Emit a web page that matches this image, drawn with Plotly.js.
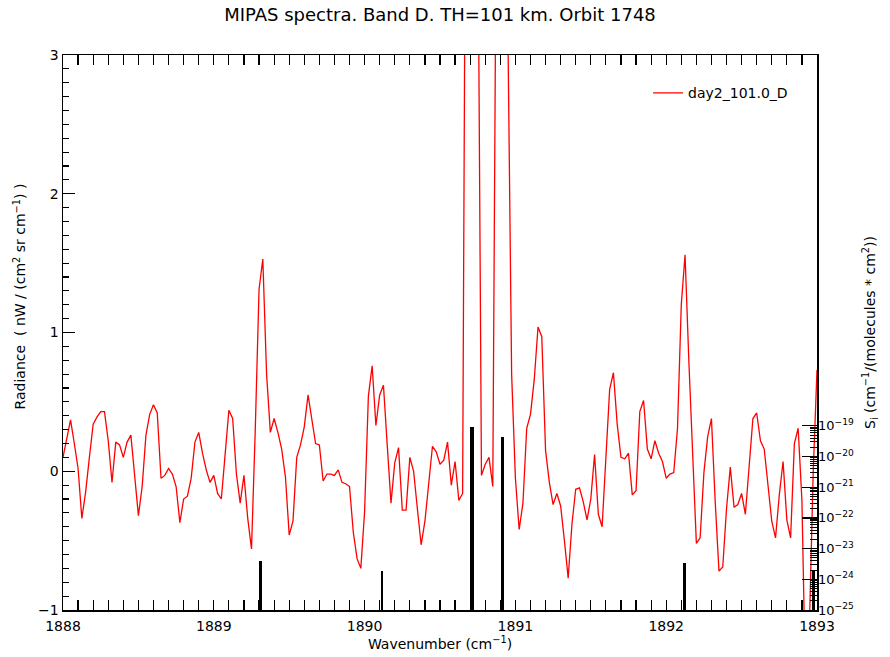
<!DOCTYPE html>
<html>
<head>
<meta charset="utf-8">
<script src="https://cdn.plot.ly/plotly-3.0.1.min.js"></script>
<style>html,body{margin:0;padding:0;background:#fff;}#chart{width:890px;height:657px;}</style>
</head>
<body>
<div id="chart"></div>
<script>
// Spectrum grid start and spacing (cm^-1)
const waveStart = 1888.0;
const waveStep = 0.025;
// Radiance values (nW/(cm2 sr cm-1))
const radiance = [
  0.10, 0.24, 0.37, 0.20, 0.02, -0.34, -0.15, 0.10, 0.34, 0.39,
  0.43, 0.43, 0.22, -0.08, 0.21, 0.19, 0.10, 0.21, 0.26, -0.03,
  -0.32, -0.11, 0.26, 0.41, 0.48, 0.42, -0.05, -0.03, 0.02, -0.02,
  -0.11, -0.37, -0.20, -0.18, -0.05, 0.21, 0.28, 0.13, 0.01, -0.08,
  -0.03, -0.16, -0.20, 0.12, 0.44, 0.38, -0.02, -0.23, -0.03, -0.34,
  -0.56, 0.30, 1.31, 1.53, 0.70, 0.28, 0.38, 0.28, 0.16, -0.04,
  -0.46, -0.36, 0.10, 0.19, 0.32, 0.55, 0.38, 0.20, 0.19, -0.07,
  -0.02, -0.02, -0.03, 0.01, -0.08, -0.09, -0.11, -0.44, -0.63, -0.70,
  -0.29, 0.54, 0.76, 0.33, 0.55, 0.62, 0.19, -0.23, 0.06, 0.17,
  -0.28, -0.28, 0.10, 0.00, -0.27, -0.53, -0.36, -0.10, 0.18, 0.14,
  0.05, 0.08, 0.21, -0.10, 0.07, -0.21, -0.16, 5.8, 9.0, 8.0,
  4.3, -0.03, 0.05, 0.10, -0.11, 4.8, 9.0, 7.0, 3.2, 0.70,
  -0.05, -0.42, -0.23, 0.31, 0.41, 0.66, 1.04, 0.97, 0.15, -0.08,
  -0.24, -0.16, -0.25, -0.50, -0.77, -0.38, -0.13, -0.12, -0.22, -0.35,
  -0.20, 0.12, -0.31, -0.40, 0.09, 0.59, 0.71, 0.34, 0.10, 0.09,
  0.13, -0.17, -0.14, 0.43, 0.51, 0.16, 0.09, 0.22, 0.13, 0.07,
  -0.05, -0.02, -0.01, 0.31, 1.20, 1.56, 0.80, 0.13, -0.52, -0.48,
  -0.01, 0.25, 0.38, -0.22, -0.72, -0.69, -0.27, 0.03, -0.26, -0.24,
  -0.16, -0.31, 0.05, 0.38, 0.42, 0.22, 0.16, -0.10, -0.36, -0.48,
  -0.17, 0.07, -0.35, -0.48, 0.20, 0.31, -0.21, -1.6, -1.1, 0.00,
  0.73
];
// Line positions and intensities S_i (cm-1/(molecules cm2))
const lineWave = [1889.31, 1890.117, 1890.711, 1890.912, 1892.119, 1892.979];
const lineIntensity = [3.98e-24, 1.9e-24, 9.5e-20, 4.3e-20, 3.3e-24, 1.8e-24];
const y2TickVals = [1e-25, 1e-24, 1e-23, 1e-22, 1e-21, 1e-20, 1e-19];
const y2TickText = ['10<sup>−25</sup>','10<sup>−24</sup>','10<sup>−23</sup>','10<sup>−22</sup>','10<sup>−21</sup>','10<sup>−20</sup>','10<sup>−19</sup>'];
const y2Minor = [];
for (let e = -25; e < -19; e++) { for (let m = 2; m <= 9; m++) y2Minor.push(m * Math.pow(10, e)); }

const font = 'DejaVu Sans, Liberation Sans, sans-serif';

const traces = [
  {
    type: 'scatter', mode: 'lines',
    x0: waveStart, dx: waveStep, y: radiance,
    name: 'day2_101.0_D',
    line: {color: '#ff0000', width: 1.3},
    xaxis: 'x', yaxis: 'y'
  },
  {
    type: 'bar', x: lineWave, y: lineIntensity,
    width: [0.02, 0.016, 0.027, 0.02, 0.02, 0.022],
    marker: {color: '#000000', line: {width: 0}},
    showlegend: false, xaxis: 'x', yaxis: 'y2', hoverinfo: 'skip'
  }
];

const layout = {
  width: 890, height: 657,
  margin: {l: 63, r: 73, t: 55, b: 47},
  paper_bgcolor: '#ffffff', plot_bgcolor: '#ffffff',
  font: {family: font, color: '#000', size: 14},
  title: {text: 'MIPAS spectra. Band D. TH=101 km. Orbit 1748', font: {size: 18, family: font, color: '#000'},
          x: 0.5, xref: 'paper', y: 0.977, yref: 'container', yanchor: 'middle'},
  showlegend: true,
  legend: {x: 0.776, y: 0.96, xanchor: 'left', yanchor: 'top', bgcolor: 'rgba(0,0,0,0)',
           font: {size: 14, family: font, color: '#000'}},
  annotations: [{
    text: 'Radiance  ( nW / (cm<sup>2</sup> sr cm<sup>−1</sup>) )', textangle: -90,
    xref: 'paper', yref: 'paper', x: -0.057, y: 0.565, xanchor: 'center', yanchor: 'middle',
    showarrow: false, font: {size: 14, family: font, color: '#000'}
  }],
  xaxis: {
    range: [1888, 1893], dtick: 1, tick0: 1888, showgrid: false, zeroline: false,
    ticks: 'inside', ticklen: 10, tickwidth: 1.3, tickcolor: '#000',
    showline: true, linecolor: '#000', linewidth: 1.5, mirror: 'allticks',
    tickfont: {size: 14, family: font}, tickformat: 'd', ticklabelstandoff: 3,
    minor: {tickmode: 'linear', tick0: 1888, dtick: 0.1, ticks: 'inside', ticklen: 5, tickwidth: 1.2, tickcolor: '#000', showgrid: false},
    title: {text: 'Wavenumber (cm<sup>−1</sup>)', font: {size: 14, family: font}, standoff: 5}
  },
  yaxis: {
    range: [-1, 3], tickmode: 'linear', tick0: -1, dtick: 1, showgrid: false, zeroline: false,
    ticks: 'inside', ticklen: 12, tickwidth: 1.3, tickcolor: '#000',
    showline: true, linecolor: '#000', linewidth: 1.5, mirror: true,
    tickfont: {size: 14, family: font},
    minor: {tickmode: 'linear', tick0: -1, dtick: 0.1, ticks: 'inside', ticklen: 6, tickwidth: 1.2, tickcolor: '#000', showgrid: false}
  },
  yaxis2: {
    type: 'log', overlaying: 'y', side: 'right', anchor: 'x',
    range: [-25, -6.92], showgrid: false, zeroline: false,
    tickmode: 'array', tickvals: y2TickVals, ticktext: y2TickText,
    ticks: 'inside', ticklen: 15, tickwidth: 1.3, tickcolor: '#000',
    showline: false, tickfont: {size: 13, family: font},
    minor: {tickmode: 'array', tickvals: y2Minor, ticks: 'inside', ticklen: 7, tickwidth: 1, tickcolor: '#000', showgrid: false},
    title: {text: 'S<sub>i</sub> (cm<sup>−1</sup>/(molecules * cm<sup>2</sup>))', font: {size: 14, family: font}, standoff: 12}
  },
  bargap: 0
};

Plotly.newPlot('chart', traces, layout, {displayModeBar: false, staticPlot: true});
</script>
</body>
</html>
